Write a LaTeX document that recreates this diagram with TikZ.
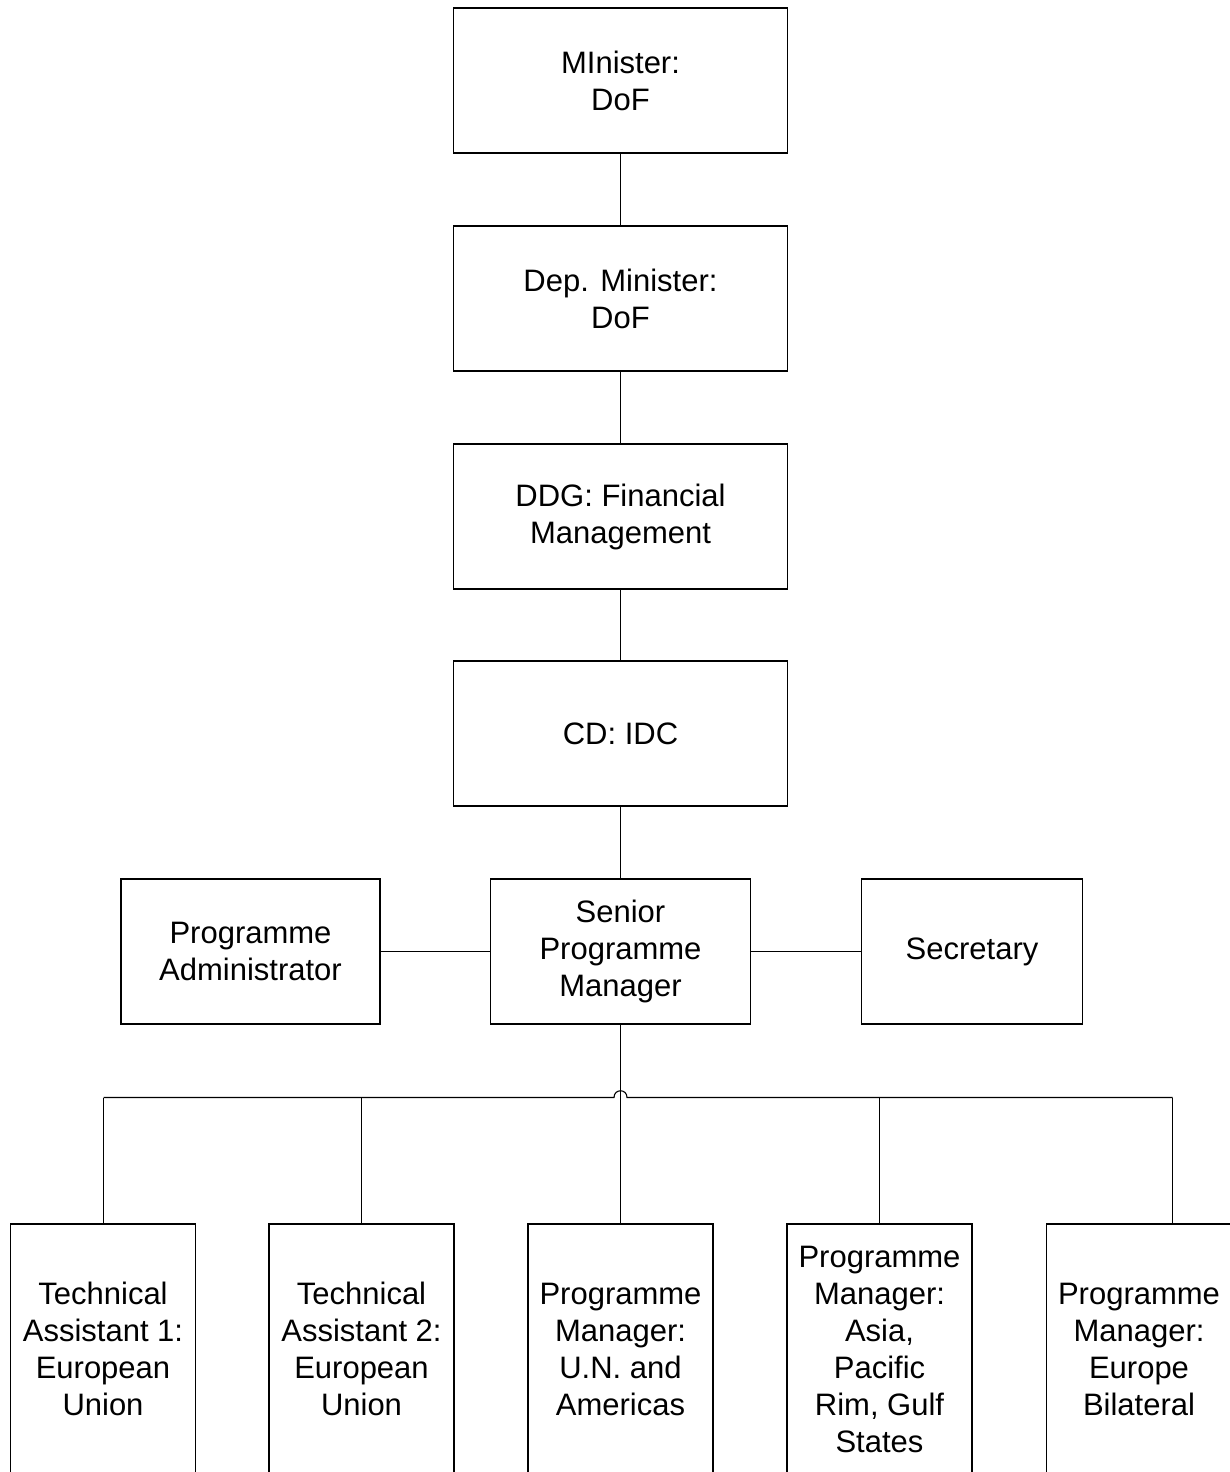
\documentclass[tikz,border=0pt]{standalone}
\usepackage{fontspec}
\setmainfont{Liberation Sans}
\begin{document}
\begin{tikzpicture}[x=1pt,y=-1pt,
  box/.style={draw=black, line width=1.1pt, rectangle, align=center, inner sep=0pt,
    font=\fontsize{31}{37}\selectfont},
  topbox/.style={box, minimum width=334pt, minimum height=145pt},
  midbox/.style={box, minimum height=145pt},
  lowbox/.style={box, minimum width=185pt, minimum height=250pt},
  conn/.style={draw=black, line width=1.1pt}]
\useasboundingbox (0,0) rectangle (1229,1472);

\node[topbox] (min) at (620.5,80.5) {MInister:\\DoF};
\node[topbox] (dep) at (620.5,298.5) {Dep. Minister:\\DoF};
\node[topbox] (ddg) at (620.5,516.5) {DDG: Financial\\Management};
\node[topbox] (cd) at (620.5,733.5) {CD: IDC};

\node[midbox, minimum width=260pt] (spm) at (620.5,951.5) {Senior\\Programme\\Manager};
\node[midbox, minimum width=259pt] (adm) at (250.5,951.5) {Programme\\Administrator};
\node[midbox, minimum width=221pt] (sec) at (972,951.5) {Secretary};

\node[lowbox] (ta1) at (103,1349) {Technical\\Assistant 1:\\European\\Union};
\node[lowbox] (ta2) at (361.5,1349) {Technical\\Assistant 2:\\European\\Union};
\node[lowbox] (pmun) at (620.5,1349) {Programme\\Manager:\\U.N. and\\Americas};
\node[lowbox] (pmas) at (879.5,1349) {Programme\\Manager:\\Asia,\\Pacific\\Rim, Gulf\\States};
\node[lowbox] (pmeu) at (1139,1349) {Programme\\Manager:\\Europe\\Bilateral};

\draw[conn] (min.south) -- (dep.north);
\draw[conn] (dep.south) -- (ddg.north);
\draw[conn] (ddg.south) -- (cd.north);
\draw[conn] (cd.south) -- (spm.north);
\draw[conn] (adm.east) -- (spm.west);
\draw[conn] (spm.east) -- (sec.west);

\coordinate (b1) at (103.5,1097.5);
\coordinate (b2) at (361.5,1097.5);
\coordinate (b4) at (879.5,1097.5);
\coordinate (b5) at (1172.5,1097.5);
\coordinate (hl) at (614,1097.5);
\coordinate (hr) at (627,1097.5);

\draw[conn] (spm.south) -- (pmun.north);
\draw[conn] (b1) -- (hl) .. controls (614,1088.5) and (627,1088.5) .. (hr) -- (b5);
\draw[conn] (b1) -- (b1 |- ta1.north);
\draw[conn] (b2) -- (ta2.north);
\draw[conn] (b4) -- (pmas.north);
\draw[conn] (b5) -- (b5 |- pmeu.north);
\end{tikzpicture}
\end{document}
